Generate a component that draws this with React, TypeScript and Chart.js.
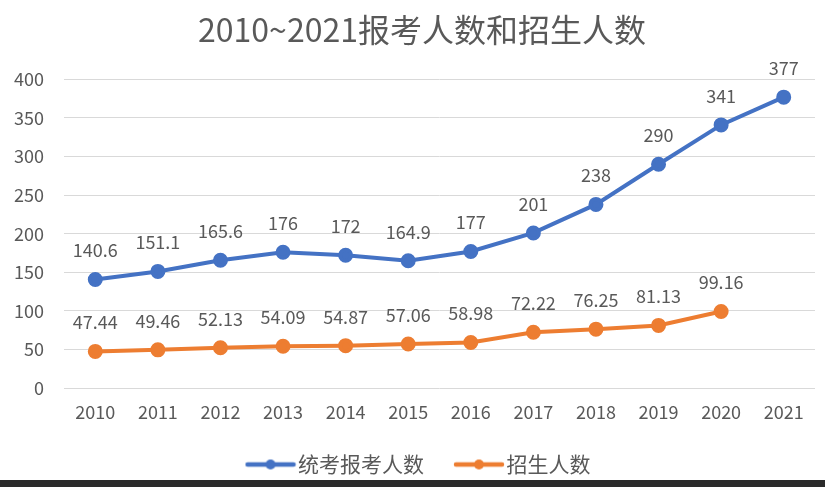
import React, { useEffect, useRef } from "react";
import { Chart, registerables } from "chart.js";

Chart.register(...registerables);

const years = ["2010", "2011", "2012", "2013", "2014", "2015", "2016", "2017", "2018", "2019", "2020", "2021"];
const applicants = [140.6, 151.1, 165.6, 176, 172, 164.9, 177, 201, 238, 290, 341, 377];
const enrolled: (number | null)[] = [47.44, 49.46, 52.13, 54.09, 54.87, 57.06, 58.98, 72.22, 76.25, 81.13, 99.16, null];
const seriesNames = ["统考报考人数", "招生人数"];
const yTicks = [0, 50, 100, 150, 200, 250, 300, 350, 400];

const BLUE = "#4472c4";
const ORANGE = "#ed7d31";
const TEXT = "#595959";
const FONT = "'Noto Sans CJK SC', 'Noto Sans', sans-serif";

function legendIcon(color: string) {
  const c = document.createElement("canvas");
  c.width = 52;
  c.height = 12;
  const ctx = c.getContext("2d")!;
  ctx.strokeStyle = color;
  ctx.lineWidth = 4.5;
  ctx.lineCap = "round";
  ctx.beginPath();
  ctx.moveTo(3, 6);
  ctx.lineTo(49, 6);
  ctx.stroke();
  ctx.fillStyle = color;
  ctx.beginPath();
  ctx.arc(26, 6, 5, 0, Math.PI * 2);
  ctx.fill();
  return c;
}

const labelPlugin = {
  id: "pointLabels",
  afterDatasetsDraw(chart: any) {
    const ctx = chart.ctx;
    ctx.save();
    ctx.font = `18px ${FONT}`;
    ctx.fillStyle = TEXT;
    ctx.textAlign = "center";
    ctx.textBaseline = "middle";
    chart.data.datasets.forEach((ds: any, i: number) => {
      const meta = chart.getDatasetMeta(i);
      meta.data.forEach((pt: any, j: number) => {
        const v = ds.data[j];
        if (v === null || v === undefined) return;
        ctx.fillText(String(v), pt.x, pt.y - 29);
      });
    });
    ctx.restore();
  },
};

export default function App() {
  const ref = useRef<HTMLCanvasElement>(null);
  useEffect(() => {
    document.body.style.margin = "0";
    const icons = [legendIcon(BLUE), legendIcon(ORANGE)];
    const chart = new Chart(ref.current!, {
      type: "line",
      data: {
        labels: years,
        datasets: [
          {
            label: seriesNames[0],
            data: applicants,
            borderColor: BLUE,
            backgroundColor: BLUE,
            borderWidth: 4,
            pointRadius: 5.5,
            pointHoverRadius: 5.5,
            tension: 0,
          },
          {
            label: seriesNames[1],
            data: enrolled,
            borderColor: ORANGE,
            backgroundColor: ORANGE,
            borderWidth: 4,
            pointRadius: 5.5,
            pointHoverRadius: 5.5,
            tension: 0,
          },
        ],
      },
      options: {
        animation: false,
        responsive: true,
        maintainAspectRatio: false,
        layout: { padding: { left: 4, right: -15, top: 8, bottom: -5 } },
        plugins: {
          title: {
            display: true,
            text: "2010~2021报考人数和招生人数",
            color: TEXT,
            font: { family: FONT, size: 32, weight: "normal" },
            padding: { top: 3, bottom: 30 },
          },
          legend: {
            position: "bottom",
            labels: {
              color: TEXT,
              font: { family: FONT, size: 21 },
              usePointStyle: true,
              pointStyleWidth: 34,
              boxHeight: 12,
              padding: 17,
              generateLabels: (c: any) =>
                c.data.datasets.map((ds: any, i: number) => ({
                  text: i === 0 ? ds.label + "\u3000" : ds.label,
                  fillStyle: ds.borderColor,
                  strokeStyle: ds.borderColor,
                  fontColor: TEXT,
                  pointStyle: icons[i],
                  lineWidth: 0,
                  datasetIndex: i,
                  hidden: false,
                })),
            },
          },
          tooltip: { enabled: false },
        },
        scales: {
          x: {
            offset: true,
            grid: { display: false },
            border: { display: false },
            ticks: { color: TEXT, font: { family: FONT, size: 18 }, padding: 5 },
            afterFit: (a: any) => {
              a.height = 49;
            },
          },
          y: {
            min: 0,
            max: 400,
            afterBuildTicks: (axis: any) => {
              axis.ticks = yTicks.map((v) => ({ value: v }));
            },
            afterFit: (a: any) => {
              a.width = 60;
            },
            grid: { color: "#d9d9d9", lineWidth: 1, drawTicks: false },
            border: { display: false },
            ticks: { color: TEXT, font: { family: FONT, size: 18 }, padding: 20 },
          },
          yRight: {
            position: "right",
            display: true,
            grid: { display: false },
            border: { display: false },
            ticks: { display: false },
            afterFit: (a: any) => {
              a.width = 25;
            },
          },
        },
      },
      plugins: [labelPlugin],
    });
    return () => chart.destroy();
  }, []);
  return (
    <div style={{ position: "relative", width: 825, height: 487, background: "#fff", overflow: "hidden" }}>
      <div style={{ position: "absolute", left: 0, top: 0, width: 825, height: 480 }}>
        <canvas ref={ref} />
      </div>
      <div style={{ position: "absolute", left: 0, top: 480, width: 825, height: 7, background: "#2b2b2b" }} />
    </div>
  );
}
